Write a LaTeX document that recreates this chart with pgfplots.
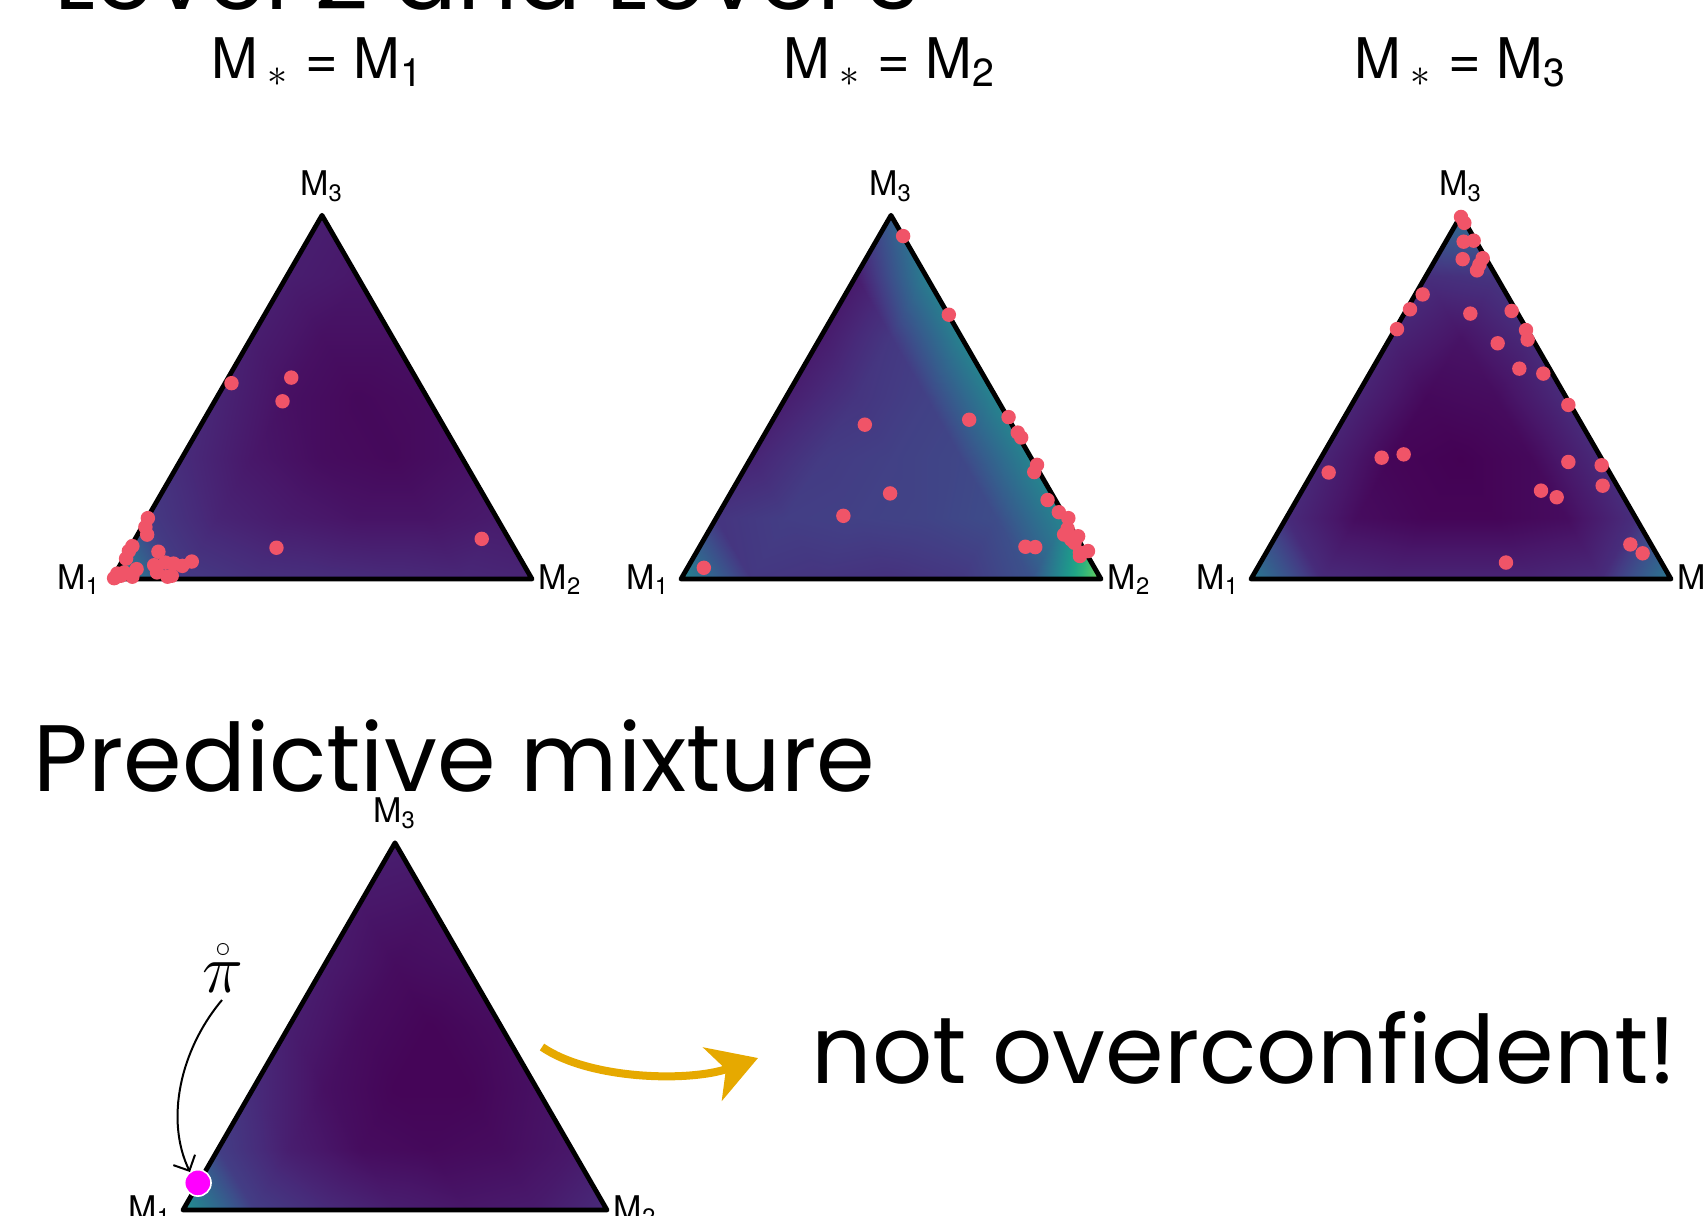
\documentclass[border=0pt]{standalone}
\usepackage{pgfplots}
\pgfplotsset{compat=1.18}
\usepackage{pgfplotstable}
\usepackage{fontspec}
\setmainfont{TeX Gyre Heros}
\newfontfamily\pop{Poppins}
\usetikzlibrary{arrows.meta}
\definecolor{dotc}{RGB}{240,84,104}
\definecolor{gold}{RGB}{230,169,0}
\definecolor{mag}{RGB}{255,0,255}

% simplex mesh, 6 steps per side; a..d = density (0..1 on viridis) for the four panels
\pgfplotstableread{
x y a b c d
0 0 0.50 0.45 0.40 0.50
0.1667 0 0.17 0.16 0.12 0.18
0.3333 0 0.14 0.15 0.10 0.12
0.5 0 0.13 0.14 0.10 0.08
0.6667 0 0.12 0.16 0.10 0.06
0.8333 0 0.11 0.25 0.12 0.07
1 0 0.10 0.80 0.40 0.12
0.0833 0.1443 0.17 0.15 0.12 0.18
0.25 0.1443 0.10 0.18 0.03 0.08
0.4167 0.1443 0.07 0.19 0.01 0.03
0.5833 0.1443 0.05 0.20 0.01 0.02
0.75 0.1443 0.05 0.23 0.03 0.03
0.9167 0.1443 0.07 0.46 0.13 0.06
0.1667 0.2887 0.12 0.10 0.10 0.12
0.3333 0.2887 0.06 0.17 0.01 0.04
0.5 0.2887 0.03 0.19 0.00 0.01
0.6667 0.2887 0.02 0.21 0.02 0.01
0.8333 0.2887 0.04 0.45 0.12 0.04
0.25 0.4330 0.10 0.08 0.10 0.08
0.4167 0.4330 0.04 0.15 0.02 0.03
0.5833 0.4330 0.02 0.19 0.03 0.01
0.75 0.4330 0.03 0.45 0.12 0.03
0.3333 0.5774 0.08 0.07 0.10 0.07
0.5 0.5774 0.04 0.16 0.05 0.03
0.6667 0.5774 0.04 0.44 0.12 0.04
0.4167 0.7217 0.08 0.07 0.13 0.06
0.5833 0.7217 0.06 0.42 0.15 0.05
0.5 0.866 0.08 0.30 0.35 0.08
}\verts

\pgfplotstableread{
x y
0.2845 0.4663
0.4268 0.4796
0.406 0.4232
0.3916 0.0745
0.8803 0.0956
0.0854 0.145
0.0795 0.1238
0.0837 0.1057
0.0485 0.0784
0.0402 0.0666
0.0335 0.0486
0.1105 0.065
0.1004 0.0329
0.1071 0.0157
0.1272 0.0391
0.1464 0.0368
0.1674 0.0313
0.19 0.0416
0.1322 0.0055
0.1423 0.0078
0.0586 0.0235
0.0485 0.0055
0.0293 0.0157
0.0209 0.0078
0.0084 0.0039
0.005 0.002
0.0126 0.013
}\ptsA

\pgfplotstableread{
x y
0.5289 0.8166
0.6377 0.6293
0.6862 0.3793
0.4377 0.3675
0.4979 0.2038
0.3866 0.1505
0.0544 0.0267
0.7799 0.3855
0.8017 0.3487
0.81 0.337
0.8477 0.2719
0.841 0.2547
0.8728 0.1881
0.8996 0.1591
0.9222 0.145
0.9205 0.1199
0.9121 0.1058
0.9289 0.094
0.9456 0.1018
0.8201 0.0768
0.8435 0.076
0.9498 0.0627
0.969 0.0666
0.9498 0.0548
0.937 0.0862
}\ptsB

\pgfplotstableread{
x y
0.5 0.8621
0.5079 0.8479
0.5063 0.8032
0.5302 0.8056
0.504 0.7616
0.5516 0.7639
0.5437 0.7482
0.5381 0.7349
0.4087 0.6776
0.3786 0.6422
0.3476 0.5951
0.5222 0.632
0.6206 0.6383
0.6548 0.5928
0.6587 0.57
0.5873 0.5613
0.6389 0.5009
0.696 0.4891
0.7556 0.4146
0.3111 0.2889
0.3635 0.2968
0.1849 0.2536
0.7556 0.2787
0.8349 0.2709
0.8373 0.2222
0.6905 0.2104
0.7278 0.1947
0.9032 0.0824
0.9325 0.0612
0.6071 0.0392
}\ptsC

\pgfplotsset{
  tri/.style={anchor=origin, x=105pt, y=105pt, xmin=0, xmax=1, ymin=0, ymax=0.866,
    hide axis, clip=false, enlargelimits=false, colormap/viridis,
    point meta min=0, point meta max=1},
  % triangles of the mesh, as row indices into \verts
  meshconn/.style={/pgfplots/table/row sep=crcr, patch table={%
    0 1 7\\ 1 2 8\\ 2 3 9\\ 3 4 10\\ 4 5 11\\ 5 6 12\\
    7 8 13\\ 8 9 14\\ 9 10 15\\ 10 11 16\\ 11 12 17\\
    13 14 18\\ 14 15 19\\ 15 16 20\\ 16 17 21\\
    18 19 22\\ 19 20 23\\ 20 21 24\\
    22 23 25\\ 23 24 26\\ 25 26 27\\
    1 8 7\\ 2 9 8\\ 3 10 9\\ 4 11 10\\ 5 12 11\\
    8 14 13\\ 9 15 14\\ 10 16 15\\ 11 17 16\\
    14 19 18\\ 15 20 19\\ 16 21 20\\
    19 23 22\\ 20 24 23\\ 23 26 25\\
  }},
  dens/.style={patch, shader=interp, point meta=explicit, meshconn},
  edge/.style={black, line width=1.2pt, line join=round},
  dots/.style={only marks, mark=*, mark size=1.6pt, color=dotc},
}
\newcommand{\vlabels}{%
  \node[anchor=base, inner sep=0, font=\fontsize{8.5}{9}\selectfont] at (axis cs:0.5,0.866) [yshift=5pt] {M\textsubscript{3}};
  \node[anchor=base east, inner sep=0, font=\fontsize{8.5}{9}\selectfont] at (axis cs:0,0) [xshift=-2.5pt, yshift=-2.5pt] {M\textsubscript{1}};
  \node[anchor=base west, inner sep=0, font=\fontsize{8.5}{9}\selectfont] at (axis cs:1,0) [xshift=1.5pt, yshift=-2.5pt] {M\textsubscript{2}};
}

\begin{document}
\begin{tikzpicture}
\clip (0,0) rectangle (426.5pt,-303.75pt);
\path[use as bounding box] (0,0) rectangle (426.5pt,-303.75pt);

\node[anchor=base west, inner sep=0, font=\pop\fontsize{23.6}{24}\selectfont] at (13.5pt,-2.25pt) {Level 2 and Level 3};
\node[anchor=base, inner sep=0, font=\fontsize{14}{14}\selectfont] at (79.5pt,-19.5pt) {M\,$_{\ast}$ = M\textsubscript{1}};
\node[anchor=base, inner sep=0, font=\fontsize{14}{14}\selectfont] at (222.5pt,-19.5pt) {M\,$_{\ast}$ = M\textsubscript{2}};
\node[anchor=base, inner sep=0, font=\fontsize{14}{14}\selectfont] at (365.25pt,-19.5pt) {M\,$_{\ast}$ = M\textsubscript{3}};

\begin{axis}[tri, at={(28pt,-144.75pt)}]
  \addplot[dens] table[x=x, y=y, meta=a] {\verts};
  \addplot[edge] coordinates {(0,0) (1,0) (0.5,0.866)} -- cycle;
  \addplot[dots] table {\ptsA};
  \vlabels
\end{axis}

\begin{axis}[tri, at={(170.25pt,-144.75pt)}]
  \addplot[dens] table[x=x, y=y, meta=b] {\verts};
  \addplot[edge] coordinates {(0,0) (1,0) (0.5,0.866)} -- cycle;
  \addplot[dots] table {\ptsB};
  \vlabels
\end{axis}

\begin{axis}[tri, at={(312.75pt,-144.75pt)}]
  \addplot[dens] table[x=x, y=y, meta=c] {\verts};
  \addplot[edge] coordinates {(0,0) (1,0) (0.5,0.866)} -- cycle;
  \addplot[dots] table {\ptsC};
  \vlabels
\end{axis}

\node[anchor=base west, inner sep=0, font=\pop\fontsize{23.6}{24}\selectfont] at (8.25pt,-197.75pt) {Predictive mixture};

\begin{axis}[tri, x=106pt, y=106pt, at={(45.75pt,-302.5pt)}]
  \addplot[dens] table[x=x, y=y, meta=d] {\verts};
  \addplot[edge] coordinates {(0,0) (1,0) (0.5,0.866)} -- cycle;
  \addplot[only marks, mark=*, mark size=3.3pt, mark options={fill=mag, draw=white, line width=0.4pt}] coordinates {(0.035,0.064)};
  \vlabels
\end{axis}

\node[anchor=base, inner sep=0, font=\fontsize{18}{18}\selectfont] at (55.75pt,-248pt) {$\mathring{\pi}$};
\draw[-{Straight Barb[length=3pt]}, line width=0.5pt] (55.5pt,-250pt) .. controls (45pt,-262.5pt) and (41.25pt,-280pt) .. (47.5pt,-293pt);
\draw[gold, line width=2pt, -{Stealth[length=12pt, width=14pt, inset=3.5pt]}] (135.5pt,-261.75pt) .. controls (147.5pt,-270pt) and (172.5pt,-270.5pt) .. (189.5pt,-264.5pt);
\node[anchor=base west, inner sep=0, font=\pop\fontsize{23.6}{24}\selectfont] at (202.75pt,-270.75pt) {not overconfident!};
\end{tikzpicture}
\end{document}
